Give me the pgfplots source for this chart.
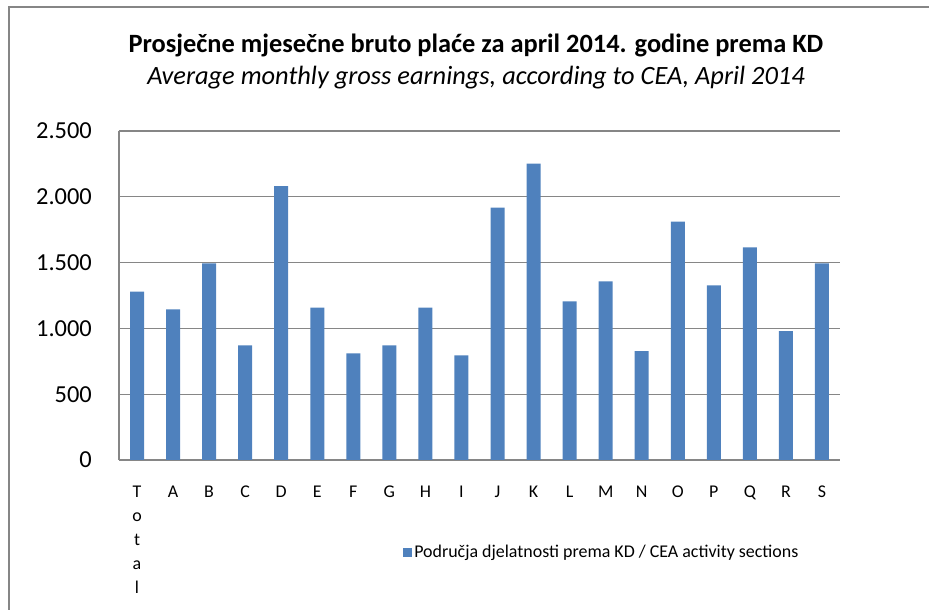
\documentclass[border=0pt]{standalone}
\usepackage{fontspec}
\setmainfont{Carlito}
\usepackage{pgfplots}
\pgfplotsset{compat=1.18}
\definecolor{barblue}{HTML}{4F81BD}
\definecolor{gridgray}{HTML}{868686}
\pgfplotstableread{
x y
0 1279
1 1145
2 1494
3 871
4 2082
5 1158
6 811
7 871
8 1158
9 795
10 1917
11 2252
12 1206
13 1358
14 828
15 1811
16 1327
17 1616
18 980
19 1494
}\wages
\begin{document}
\begin{tikzpicture}[x=1bp,y=1bp]
\path[use as bounding box] (-119,-150) rectangle (810,460);
\draw[gridgray, line width=1.2bp] (-110,-160) -- (-110,453) -- (820,453);
\begin{axis}[
  at={(0,0)}, anchor=south west,
  scale only axis, width=721bp, height=329bp,
  xmin=-0.5, xmax=19.5, ymin=0, ymax=2500,
  ybar, bar width=14bp,
  axis x line=bottom, axis y line=left,
  axis line style={draw=gridgray, line width=1.2bp, -},
  ymajorgrids, grid style={draw=gridgray, line width=1.2bp},
  major tick length=0pt,
  ytick={0,500,1000,1500,2000,2500},
  scaled y ticks=false,
  /pgf/number format/.cd, 1000 sep={.}, assume math mode=true, /pgfplots/.cd,
  yticklabel style={font=\fontsize{24.5}{28}\selectfont, anchor=east, inner sep=0pt, xshift=-27bp},
  xtick={0,...,19},
  xticklabels={{T\\o\\t\\a\\l},A,B,C,D,E,F,G,H,I,J,K,L,M,N,O,P,Q,R,S},
  xticklabel style={font=\fontsize{18}{24}\selectfont, anchor=north, inner sep=0pt, yshift=-26bp, align=center},
  legend style={at={(0.394,-0.281)}, anchor=west, draw=none, fill=none, inner sep=0pt,
    font=\fontsize{18}{22}\selectfont, legend cell align=left},
]
\addplot[fill=barblue, draw=none,
  legend image code/.code={\fill[barblue] (0bp,-4.5bp) rectangle (9bp,4.5bp);}]
  table[x=x, y=y] {\wages};
\addlegendentry{Područja djelatnosti prema KD / CEA activity sections}
\end{axis}
\node[font=\fontsize{26.5}{30}\selectfont\bfseries] at (357,415) {Prosječne mjesečne bruto plaće za april 2014. godine prema KD};
\node[font=\fontsize{26.5}{30}\selectfont\itshape] at (357,382) {Average monthly gross earnings, according to CEA, April 2014};
\end{tikzpicture}
\end{document}
